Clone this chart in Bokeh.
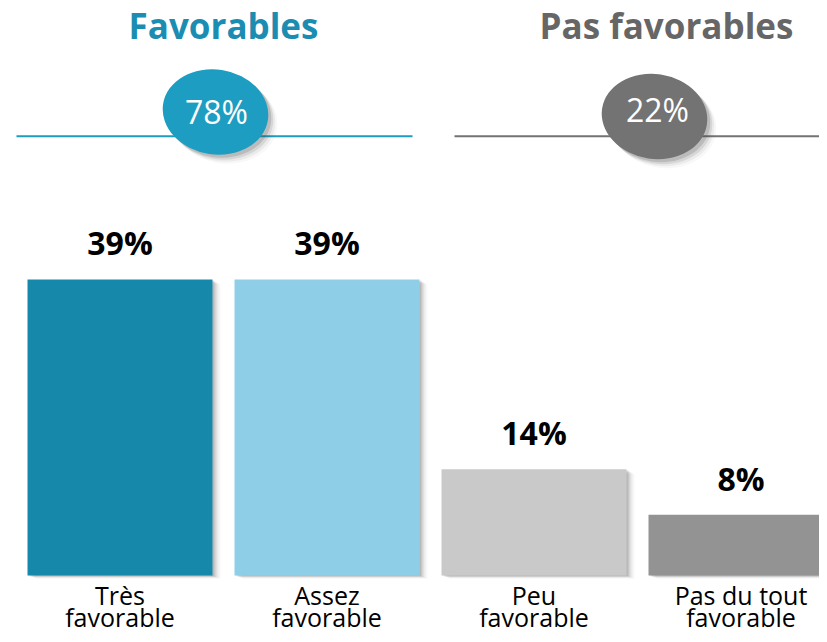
from bokeh.plotting import figure
from bokeh.models import Range1d, ColumnDataSource
from bokeh.core.properties import value
from bokeh.embed import file_html
from bokeh.resources import INLINE

# ---- data ----
categories_line1 = ["Très", "Assez", "Peu", "Pas du tout"]
categories_line2 = ["favorable", "favorable", "favorable", "favorable"]
values = [39, 39, 14, 8]
value_labels = ["39%", "39%", "14%", "8%"]
bar_colors = ["#1689ab", "#8ecfe7", "#c9c9c9", "#939393"]

groups = ["Favorables", "Pas favorables"]
group_totals = ["78%", "22%"]
group_title_colors = ["#1b8db2", "#666666"]
group_fill_colors = ["#1c9dc1", "#737373"]

# ---- layout ----
W, H = 819, 634
PX_PER_CAT = 207.0
PX_PER_PCT = 7.59
BASE = 575.0  # baseline in picture pixels from top
x_start = -119.5 / PX_PER_CAT
x_end = x_start + W / PX_PER_CAT
y_start = -(H - BASE) / PX_PER_PCT
y_end = y_start + H / PX_PER_PCT
dx = 1 / PX_PER_CAT   # one pixel in x units
dy = 1 / PX_PER_PCT   # one pixel in y units

FONT = "Open Sans"
BL = 0.43  # baseline correction (fraction of font size)

p = figure(width=W, height=H, x_range=Range1d(x_start, x_end), y_range=Range1d(y_start, y_end),
           output_backend="svg", toolbar_location=None, min_border=0)
p.axis.visible = False
p.grid.visible = False
p.outline_line_color = None
p.background_fill_color = "white"

xs = list(range(len(values)))
bar_w = 185 / PX_PER_CAT

# bar shadows
for off, alpha in [(2, 0.22), (4, 0.14), (6, 0.08), (8, 0.04)]:
    p.vbar(x=[x + off * dx for x in xs], top=[v - off * 0.6 * dy for v in values],
           bottom=[-off * 0.4 * dy] * len(values), width=bar_w,
           fill_color="#555555", fill_alpha=alpha, line_color=None)

src = ColumnDataSource(dict(x=xs, top=values, color=bar_colors, lab=value_labels,
                            l1=categories_line1, l2=categories_line2))
p.vbar(x="x", top="top", bottom=0, width=bar_w, fill_color="color", line_color=None, source=src)

p.text(x="x", y="top", text="lab", source=src, text_align="center", text_baseline="alphabetic",
       y_offset=-23 - BL * 32, text_font=value(FONT), text_font_style="bold", text_font_size="32px",
       text_color="black")
p.text(x="x", y=0, text="l1", source=src, text_align="center", text_baseline="alphabetic",
       y_offset=30 - BL * 25, text_font=value(FONT), text_font_size="25px", text_color="black")
p.text(x="x", y=0, text="l2", source=src, text_align="center", text_baseline="alphabetic",
       y_offset=52 - BL * 25, text_font=value(FONT), text_font_size="25px", text_color="black")

# group headers
title_x = [0.5, 2.64]
title_y = (BASE - 40) * dy
line_y = (BASE - 135.7) * dy
line_segments = [(x_start + 16 * dx, x_start + 412 * dx), (x_start + 454 * dx, x_end + 0.1)]
ell_x = [x_start + 215 * dx, x_start + 654 * dx]
ell_y = [(BASE - 111.5) * dy, (BASE - 116) * dy]
tot_x = [x_start + 216 * dx, x_start + 657 * dx]
tot_y = [(BASE - 125) * dy, (BASE - 123) * dy]

p.text(x=title_x, y=[title_y] * 2, text=groups, text_align="center", text_baseline="alphabetic",
       y_offset=-BL * 35, text_font=value(FONT), text_font_style="bold", text_font_size="35px",
       text_color=group_title_colors)

for (a, b), c in zip(line_segments, group_fill_colors):
    p.line(x=[a, b], y=[line_y, line_y], line_color=c, line_width=2)

for off, alpha in [(3, 0.18), (5, 0.12), (7, 0.07), (9, 0.04)]:
    p.ellipse(x=[x + off * dx for x in ell_x], y=[y - off * dy for y in ell_y],
              width=106, height=85, width_units="screen", height_units="screen",
              angle=-0.15, fill_color="#444444", fill_alpha=alpha, line_color=None)
p.ellipse(x=ell_x, y=ell_y, width=106, height=85, width_units="screen", height_units="screen",
          angle=-0.15, fill_color=group_fill_colors, line_color=None)

p.text(x=tot_x, y=tot_y, text=group_totals, text_align="center", text_baseline="alphabetic",
       y_offset=-BL * 32, text_font=value(FONT), text_font_size="32px", text_color="white")

open("out.html", "w").write(file_html(p, INLINE))
